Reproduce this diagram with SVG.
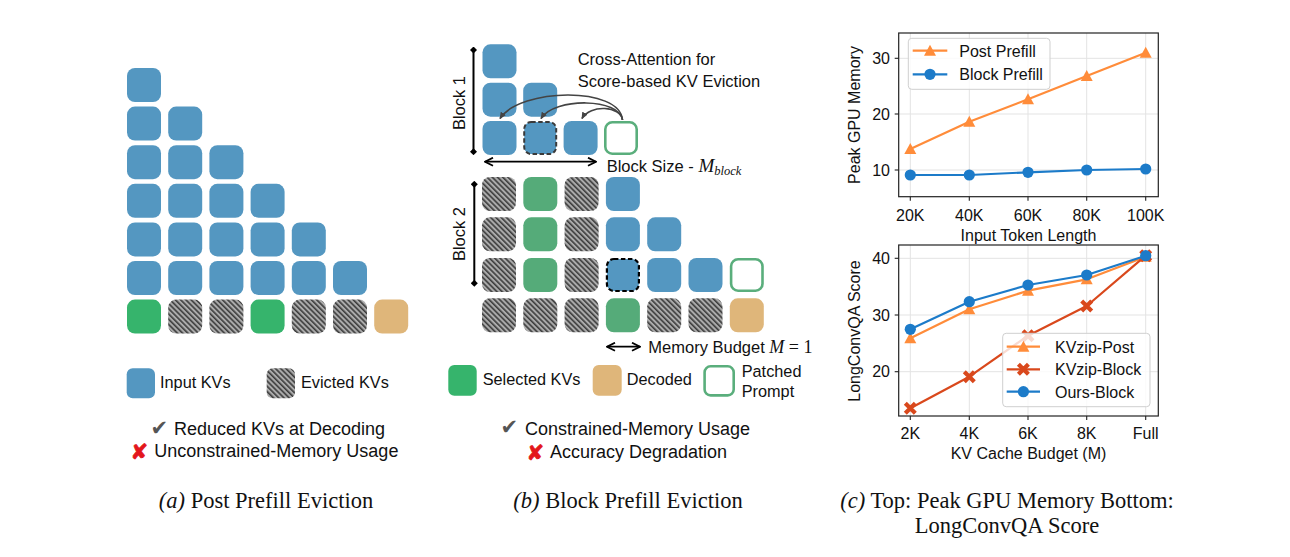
<svg xmlns="http://www.w3.org/2000/svg" width="1290" height="557" viewBox="0 0 1290 557">
<style>
.t{font-family:"Liberation Sans",Arial,sans-serif;font-size:16.5px;fill:#111}
.lg{font-family:"Liberation Sans",Arial,sans-serif;font-size:16.3px;fill:#111}
.pc{font-family:"Liberation Sans",Arial,sans-serif;font-size:18px;fill:#111}
.ct{font-family:"Liberation Sans",Arial,sans-serif;font-size:16px;fill:#111}
.cap{font-family:"Liberation Serif","Times New Roman",serif;font-size:22.5px;fill:#111}
.math{font-family:"Liberation Serif","Times New Roman",serif;font-style:italic}
.ok{font-family:"DejaVu Sans",sans-serif;font-size:21px;fill:#555}
.no{font-family:"DejaVu Sans",sans-serif;font-size:21px;font-weight:bold;fill:#e3161c;stroke:#e3161c;stroke-width:0.8}
.b{fill:#5497c1}
.g{fill:#36b46c}
.g2{fill:#55ab79}
.h{fill:url(#hatch)}
.tn{fill:#dfb67a}
.p{fill:#fff;stroke:#5aae7c;stroke-width:2.6}
.box rect{rx:8px}
.grid{stroke:#e3e3e3;stroke-width:1;fill:none}
.frame{fill:none;stroke:#222;stroke-width:1.2}
.tick{stroke:#222;stroke-width:1.1}
.ln{fill:none;stroke-width:2.2;stroke-linejoin:round}
</style>
<defs>
<pattern id="hatch" patternUnits="userSpaceOnUse" width="3.7" height="3.7" patternTransform="rotate(-45)">
<rect width="3.7" height="3.7" fill="#ababab"/>
<rect width="1.6" height="3.7" fill="#3d3d3d"/>
</pattern>
<marker id="ah" viewBox="0 0 8 8" refX="7" refY="4" markerWidth="7" markerHeight="7" markerUnits="userSpaceOnUse" orient="auto">
<path d="M0,0.5 L8,4 L0,7.5 Z" fill="#444"/>
</marker>
<marker id="chev" viewBox="0 0 10 10" refX="9" refY="5" markerWidth="10" markerHeight="10" markerUnits="userSpaceOnUse" orient="auto-start-reverse">
<path d="M1,1 L9,5 L1,9" fill="none" stroke="#000" stroke-width="1.8"/>
</marker>
<marker id="dia" viewBox="0 0 8 8" refX="4" refY="4" markerWidth="7" markerHeight="7" markerUnits="userSpaceOnUse" orient="auto">
<path d="M4,0 L8,4 L4,8 L0,4 Z" fill="#000"/>
</marker>
<g id="tri"><path d="M0,-6 L6,5 L-6,5 Z"/></g>
<g id="dot"><circle r="5.6"/></g>
<g id="xm"><path d="M-5,-5 L5,5 M5,-5 L-5,5" stroke-width="4.2"/></g>
</defs>

<!-- Panel (a) -->
<g id="panel-a" class="box">
<rect class="b" x="127" y="68" width="34" height="34"/>
<rect class="b" x="127" y="106.6" width="34" height="34"/>
<rect class="b" x="168.2" y="106.6" width="34" height="34"/>
<rect class="b" x="127" y="145.2" width="34" height="34"/>
<rect class="b" x="168.2" y="145.2" width="34" height="34"/>
<rect class="b" x="209.4" y="145.2" width="34" height="34"/>
<rect class="b" x="127" y="183.8" width="34" height="34"/>
<rect class="b" x="168.2" y="183.8" width="34" height="34"/>
<rect class="b" x="209.4" y="183.8" width="34" height="34"/>
<rect class="b" x="250.6" y="183.8" width="34" height="34"/>
<rect class="b" x="127" y="222.4" width="34" height="34"/>
<rect class="b" x="168.2" y="222.4" width="34" height="34"/>
<rect class="b" x="209.4" y="222.4" width="34" height="34"/>
<rect class="b" x="250.6" y="222.4" width="34" height="34"/>
<rect class="b" x="291.8" y="222.4" width="34" height="34"/>
<rect class="b" x="127" y="261" width="34" height="34"/>
<rect class="b" x="168.2" y="261" width="34" height="34"/>
<rect class="b" x="209.4" y="261" width="34" height="34"/>
<rect class="b" x="250.6" y="261" width="34" height="34"/>
<rect class="b" x="291.8" y="261" width="34" height="34"/>
<rect class="b" x="333" y="261" width="34" height="34"/>
<rect class="g" x="127" y="299.6" width="34" height="34"/>
<rect class="h" x="168.2" y="299.6" width="34" height="34"/>
<rect class="h" x="209.4" y="299.6" width="34" height="34"/>
<rect class="g" x="250.6" y="299.6" width="34" height="34"/>
<rect class="h" x="291.8" y="299.6" width="34" height="34"/>
<rect class="h" x="333" y="299.6" width="34" height="34"/>
<rect class="tn" x="374.2" y="299.6" width="34" height="34"/>
</g>

<!-- Panel (b) block 1 -->
<g id="block-1" class="box">
<rect class="b" x="482.5" y="44.3" width="34" height="34"/>
<rect class="b" x="482.5" y="82.7" width="34" height="34"/>
<rect class="b" x="523.2" y="82.7" width="34" height="34"/>
<rect class="b" x="482.5" y="121" width="34" height="34"/>
<rect class="b" x="524.2" y="122" width="32" height="32" style="rx:7px" stroke="#3a3a3a" stroke-width="2" stroke-dasharray="4.5 2.5"/>
<rect class="b" x="563.6" y="121" width="34" height="34"/>
<rect class="p" x="605.3" y="122.3" width="31.4" height="31.4" style="rx:7px"/>
</g>

<!-- Panel (b) block 2 -->
<g id="block-2" class="box">
<rect class="h" x="482" y="177" width="34" height="34"/>
<rect class="g2" x="523.3" y="177" width="34" height="34"/>
<rect class="h" x="564.6" y="177" width="34" height="34"/>
<rect class="b" x="605.9" y="177" width="34" height="34"/>
<rect class="h" x="482" y="217.3" width="34" height="34"/>
<rect class="g2" x="523.3" y="217.3" width="34" height="34"/>
<rect class="h" x="564.6" y="217.3" width="34" height="34"/>
<rect class="b" x="605.9" y="217.3" width="34" height="34"/>
<rect class="b" x="647.2" y="217.3" width="34" height="34"/>
<rect class="h" x="482" y="258" width="34" height="34"/>
<rect class="g2" x="523.3" y="258" width="34" height="34"/>
<rect class="h" x="564.6" y="258" width="34" height="34"/>
<rect class="b" x="606.9" y="259" width="32" height="32" style="rx:7px" stroke="#000" stroke-width="2.2" stroke-dasharray="4.5 2.5"/>
<rect class="b" x="647.2" y="258" width="34" height="34"/>
<rect class="b" x="688.5" y="258" width="34" height="34"/>
<rect class="p" x="731.1" y="259.3" width="31.4" height="31.4" style="rx:7px"/>
<rect class="h" x="482" y="298.3" width="34" height="34"/>
<rect class="h" x="523.3" y="298.3" width="34" height="34"/>
<rect class="h" x="564.6" y="298.3" width="34" height="34"/>
<rect class="g2" x="605.9" y="298.3" width="34" height="34"/>
<rect class="h" x="647.2" y="298.3" width="34" height="34"/>
<rect class="h" x="688.5" y="298.3" width="34" height="34"/>
<rect class="tn" x="729.8" y="298.3" width="34" height="34"/>
</g>

<!-- Connectors / annotations of panel (b) -->
<g id="connectors">
<path d="M622.5,120 C620,86 520,88 500,118.5" fill="none" stroke="#444" stroke-width="1.6" marker-end="url(#ah)"/>
<path d="M622.5,120 C620,98 555,97 541,118.5" fill="none" stroke="#444" stroke-width="1.6" marker-end="url(#ah)"/>
<path d="M622.5,120 C621,106 590,104 582,118.5" fill="none" stroke="#444" stroke-width="1.6" marker-end="url(#ah)"/>
<line x1="473.5" y1="50" x2="473.5" y2="151.7" stroke="#000" stroke-width="2" marker-start="url(#dia)" marker-end="url(#dia)"/>
<line x1="474.3" y1="184.3" x2="474.3" y2="283.3" stroke="#000" stroke-width="2" marker-start="url(#dia)" marker-end="url(#dia)"/>
<line x1="485" y1="161.7" x2="596" y2="161.7" stroke="#000" stroke-width="1.8" marker-start="url(#chev)" marker-end="url(#chev)"/>
<line x1="607" y1="346.7" x2="640" y2="346.7" stroke="#000" stroke-width="1.8" marker-start="url(#chev)" marker-end="url(#chev)"/>
</g>

<g id="labels-b">
<text class="t" x="465" y="103" text-anchor="middle" transform="rotate(-90 465 103)">Block 1</text>
<text class="t" x="465" y="234" text-anchor="middle" transform="rotate(-90 465 234)">Block 2</text>
<text class="t" x="577.7" y="65" font-size="17px">Cross-Attention for</text>
<text class="t" x="577.7" y="86.7" font-size="17px">Score-based KV Eviction</text>
<text class="t" x="606.7" y="171.7">Block Size - <tspan class="math" font-size="19px">M</tspan><tspan class="math" font-size="12.5px" dy="3">block</tspan></text>
<text class="t" x="648.3" y="352.5" font-size="17px">Memory Budget <tspan class="math" font-size="18px">M</tspan><tspan font-family="Liberation Serif, serif" font-size="18px"> = 1</tspan></text>
</g>

<!-- Legends -->
<g id="legend-a">
<rect class="b" x="126.7" y="368.3" width="28.3" height="30" rx="6"/>
<text class="lg" x="160" y="387.7">Input KVs</text>
<rect class="h" x="266.7" y="368.3" width="28.3" height="30" rx="6"/>
<text class="lg" x="301" y="387.7">Evicted KVs</text>
</g>
<g id="legend-b">
<rect class="g" x="448.3" y="365" width="28.4" height="30.7" rx="6"/>
<text class="lg" x="482.7" y="385">Selected KVs</text>
<rect class="tn" x="592.7" y="365" width="29" height="30.7" rx="6"/>
<text class="lg" x="626.7" y="385">Decoded</text>
<rect x="704.6" y="366.3" width="29.1" height="29.1" rx="6" fill="#fff" stroke="#5aae7c" stroke-width="2.6"/>
<text class="lg" x="741.7" y="376.7">Patched</text>
<text class="lg" x="741.7" y="396.7">Prompt</text>
</g>

<g id="pros-cons-a">
<text class="ok" x="150.5" y="435">✔</text>
<text class="pc" x="174" y="435">Reduced KVs at Decoding</text>
<text class="no" x="130.5" y="458.5">✘</text>
<text class="pc" x="154.3" y="457.3">Unconstrained-Memory Usage</text>
</g>
<g id="pros-cons-b">
<text class="ok" x="500.5" y="434">✔</text>
<text class="pc" x="525" y="435">Constrained-Memory Usage</text>
<text class="no" x="526.5" y="459.5">✘</text>
<text class="pc" x="550" y="458.3">Accuracy Degradation</text>
</g>

<!-- Top chart -->
<g id="chart-top">
<g class="grid">
<line x1="910.3" y1="33" x2="910.3" y2="196.7"/>
<line x1="969.3" y1="33" x2="969.3" y2="196.7"/>
<line x1="1028" y1="33" x2="1028" y2="196.7"/>
<line x1="1086.7" y1="33" x2="1086.7" y2="196.7"/>
<line x1="1145.7" y1="33" x2="1145.7" y2="196.7"/>
<line x1="898.7" y1="58.3" x2="1158.3" y2="58.3"/>
<line x1="898.7" y1="114" x2="1158.3" y2="114"/>
<line x1="898.7" y1="170" x2="1158.3" y2="170"/>
</g>
<polyline class="ln" stroke="#ff8c3a" points="910.3,149 969.3,121.7 1028,99.3 1086.7,76 1145.7,52.7"/>
<g fill="#ff8c3a">
<use href="#tri" x="910.3" y="149"/><use href="#tri" x="969.3" y="121.7"/><use href="#tri" x="1028" y="99.3"/><use href="#tri" x="1086.7" y="76"/><use href="#tri" x="1145.7" y="52.7"/>
</g>
<polyline class="ln" stroke="#1c7bc9" points="910.3,175 969.3,175 1028,172.3 1086.7,170 1145.7,169"/>
<g fill="#1c7bc9">
<use href="#dot" x="910.3" y="175"/><use href="#dot" x="969.3" y="175"/><use href="#dot" x="1028" y="172.3"/><use href="#dot" x="1086.7" y="170"/><use href="#dot" x="1145.7" y="169"/>
</g>
<rect class="frame" x="898.7" y="33" width="259.6" height="163.7"/>
<g class="tick">
<line x1="910.3" y1="196.7" x2="910.3" y2="200.7"/><line x1="969.3" y1="196.7" x2="969.3" y2="200.7"/><line x1="1028" y1="196.7" x2="1028" y2="200.7"/><line x1="1086.7" y1="196.7" x2="1086.7" y2="200.7"/><line x1="1145.7" y1="196.7" x2="1145.7" y2="200.7"/>
<line x1="894.7" y1="58.3" x2="898.7" y2="58.3"/><line x1="894.7" y1="114" x2="898.7" y2="114"/><line x1="894.7" y1="170" x2="898.7" y2="170"/>
</g>
<g class="ct" text-anchor="middle">
<text x="910.3" y="221">20K</text><text x="969.3" y="221">40K</text><text x="1028" y="221">60K</text><text x="1086.7" y="221">80K</text><text x="1145.7" y="221">100K</text>
<text x="1028.5" y="241">Input Token Length</text>
<text x="860" y="115" transform="rotate(-90 860 115)">Peak GPU Memory</text>
</g>
<g class="ct" text-anchor="end">
<text x="890" y="64">30</text><text x="890" y="119.7">20</text><text x="890" y="175.7">10</text>
</g>
<g id="legend-top">
<rect x="908.3" y="38.3" width="141.7" height="51" rx="3.5" fill="#fff" fill-opacity="0.8" stroke="#cfcfcf" stroke-width="1"/>
<line x1="912.7" y1="50.7" x2="947.3" y2="50.7" stroke="#ff8c3a" stroke-width="2.2"/>
<use href="#tri" x="930" y="50.7" fill="#ff8c3a"/>
<text class="ct" x="959.3" y="56.5">Post Prefill</text>
<line x1="912.7" y1="74.3" x2="947.3" y2="74.3" stroke="#1c7bc9" stroke-width="2.2"/>
<use href="#dot" x="930" y="74.3" fill="#1c7bc9"/>
<text class="ct" x="959.3" y="80">Block Prefill</text>
</g>
</g>

<!-- Bottom chart -->
<g id="chart-bottom">
<g class="grid">
<line x1="910.3" y1="245" x2="910.3" y2="416"/>
<line x1="969.3" y1="245" x2="969.3" y2="416"/>
<line x1="1028" y1="245" x2="1028" y2="416"/>
<line x1="1086.7" y1="245" x2="1086.7" y2="416"/>
<line x1="1145.7" y1="245" x2="1145.7" y2="416"/>
<line x1="898.7" y1="258.3" x2="1158.3" y2="258.3"/>
<line x1="898.7" y1="315" x2="1158.3" y2="315"/>
<line x1="898.7" y1="371.7" x2="1158.3" y2="371.7"/>
</g>
<polyline class="ln" stroke="#ff8c3a" points="910.3,338.3 969.3,309.3 1028,290.7 1086.7,279.3 1145.7,256.7"/>
<g fill="#ff8c3a">
<use href="#tri" x="910.3" y="338.3"/><use href="#tri" x="969.3" y="309.3"/><use href="#tri" x="1028" y="290.7"/><use href="#tri" x="1086.7" y="279.3"/><use href="#tri" x="1145.7" y="256.7"/>
</g>
<polyline class="ln" stroke="#d9481c" points="910.3,408.3 969.3,376.7 1028,335.7 1086.7,306 1145.7,255.7"/>
<g stroke="#d9481c">
<use href="#xm" x="910.3" y="408.3"/><use href="#xm" x="969.3" y="376.7"/><use href="#xm" x="1028" y="335.7"/><use href="#xm" x="1086.7" y="306"/><use href="#xm" x="1145.7" y="255.7"/>
</g>
<polyline class="ln" stroke="#1c7bc9" points="910.3,329.3 969.3,301.7 1028,285 1086.7,275 1145.7,255.7"/>
<g fill="#1c7bc9">
<use href="#dot" x="910.3" y="329.3"/><use href="#dot" x="969.3" y="301.7"/><use href="#dot" x="1028" y="285"/><use href="#dot" x="1086.7" y="275"/><use href="#dot" x="1145.7" y="255.7"/>
</g>
<rect class="frame" x="898.7" y="245" width="259.6" height="171"/>
<g class="tick">
<line x1="910.3" y1="416" x2="910.3" y2="420"/><line x1="969.3" y1="416" x2="969.3" y2="420"/><line x1="1028" y1="416" x2="1028" y2="420"/><line x1="1086.7" y1="416" x2="1086.7" y2="420"/><line x1="1145.7" y1="416" x2="1145.7" y2="420"/>
<line x1="894.7" y1="258.3" x2="898.7" y2="258.3"/><line x1="894.7" y1="315" x2="898.7" y2="315"/><line x1="894.7" y1="371.7" x2="898.7" y2="371.7"/>
</g>
<g class="ct" text-anchor="middle">
<text x="910.3" y="439">2K</text><text x="969.3" y="439">4K</text><text x="1028" y="439">6K</text><text x="1086.7" y="439">8K</text><text x="1145.7" y="439">Full</text>
<text x="1028.5" y="459">KV Cache Budget (M)</text>
<text x="860" y="331" transform="rotate(-90 860 331)">LongConvQA Score</text>
</g>
<g class="ct" text-anchor="end">
<text x="890" y="264">40</text><text x="890" y="320.7">30</text><text x="890" y="377.4">20</text>
</g>
<g id="legend-bottom">
<rect x="1002.7" y="333.3" width="147.3" height="73.4" rx="3.5" fill="#fff" fill-opacity="0.8" stroke="#cfcfcf" stroke-width="1"/>
<line x1="1006.7" y1="346.7" x2="1040" y2="346.7" stroke="#ff8c3a" stroke-width="2.2"/>
<use href="#tri" x="1023.4" y="346.7" fill="#ff8c3a"/>
<text class="ct" x="1055" y="352.5">KVzip-Post</text>
<line x1="1006.7" y1="369.3" x2="1040" y2="369.3" stroke="#d9481c" stroke-width="2.2"/>
<use href="#xm" x="1023.4" y="369.3" stroke="#d9481c"/>
<text class="ct" x="1055" y="375">KVzip-Block</text>
<line x1="1006.7" y1="391.7" x2="1040" y2="391.7" stroke="#1c7bc9" stroke-width="2.2"/>
<use href="#dot" x="1023.4" y="391.7" fill="#1c7bc9"/>
<text class="ct" x="1055" y="397.5">Ours-Block</text>
</g>
</g>

<!-- Captions -->
<g id="captions">
<text class="cap" x="266" y="508" text-anchor="middle"><tspan font-style="italic">(a)</tspan> Post Prefill Eviction</text>
<text class="cap" x="628" y="508" text-anchor="middle"><tspan font-style="italic">(b)</tspan> Block Prefill Eviction</text>
<text class="cap" x="1007" y="508" text-anchor="middle"><tspan font-style="italic">(c)</tspan> Top: Peak GPU Memory Bottom:</text>
<text class="cap" x="1007" y="533" text-anchor="middle">LongConvQA Score</text>
</g>
</svg>
